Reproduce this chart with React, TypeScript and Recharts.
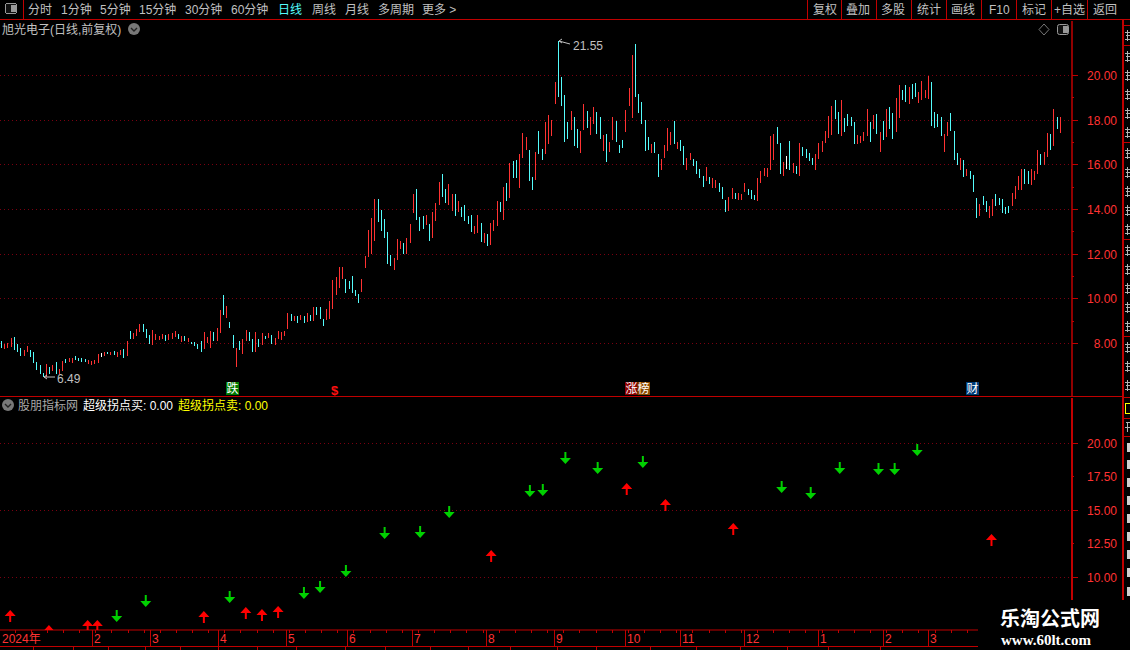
import React from "react";
import { Bar, CartesianGrid, ComposedChart, Line, XAxis, YAxis } from "recharts";

const candleHigh = [
  8.11,8.0,8.03,8.24,8.29,7.97,7.82,7.7,7.88,7.7,7.61,7.18,7.06,6.68,7.09,6.97,7.05,7.15,6.86,7.21,
  7.3,7.33,7.36,7.42,7.36,7.33,7.32,7.24,7.21,7.24,7.55,7.58,7.64,7.64,7.61,7.65,7.61,7.7,7.74,8.11,
  8.56,8.45,8.64,8.88,8.88,8.65,8.39,8.61,8.42,8.35,8.41,8.38,8.41,8.45,8.55,8.44,8.35,8.35,8.23,8.09,
  8.08,7.97,8.12,8.5,8.29,8.56,8.5,8.68,9.52,10.15,9.7,8.97,8.38,7.82,8.12,8.2,8.61,8.52,8.2,8.52,
  8.2,8.45,8.33,8.47,8.38,8.24,8.56,8.53,8.56,9.38,9.33,9.24,9.21,9.29,9.24,9.38,9.29,9.65,9.65,9.65,
  9.11,9.56,9.92,10.83,10.97,11.43,11.43,10.89,10.8,11.02,10.39,10.2,10.89,
  11.91,13.1,13.6,14.49,14.46,13.97,13.57,12.99,11.96,11.85,12.67,12.58,12.48,12.72,13.34,14.69,14.91,13.66,13.7,13.75,
  13.34,13.88,14.28,15.22,15.58,14.91,15.13,14.69,14.69,14.37,14.1,14.19,13.7,13.75,13.25,13.75,13.39,12.94,12.9,13.39,
  13.52,14.37,14.33,15.0,15.18,16.07,16.16,16.21,16.48,17.42,17.24,16.66,15.45,16.57,17.51,16.7,17.91,18.22,18.0,19.7,
  21.55,19.93,19.12,17.91,18.4,18.13,17.6,17.51,18.72,18.4,18.13,18.58,18.36,18.13,17.33,17.37,17.01,18.13,17.96,16.88,
  17.1,18.45,19.43,20.91,21.4,19.16,18.81,18.0,17.24,16.93,17.01,16.48,16.25,16.88,17.64,17.46,17.96,17.01,17.1,16.84,
  16.3,16.52,16.25,16.16,15.81,15.49,15.9,15.45,15.4,15.31,15.18,15.0,14.42,14.55,14.96,14.73,14.73,
  14.69,15.18,14.91,14.87,14.64,15.4,15.72,15.85,15.85,17.28,17.37,17.69,16.97,16.12,16.39,17.06,16.07,15.94,16.97,16.79,
  16.7,16.52,16.3,16.48,16.97,17.06,17.51,18.18,18.63,18.9,18.36,18.9,18.09,18.27,18.13,17.91,17.33,17.28,17.46,18.49,
  17.91,18.22,18.27,17.46,17.96,18.49,18.58,18.31,18.99,19.57,19.34,19.57,19.48,19.61,19.66,19.25,19.75,19.34,19.97,19.7,
  18.36,18.27,18.13,17.37,17.91,18.31,17.51,16.52,16.3,16.21,15.81,15.72,15.54,14.51,14.24,14.6,14.37,14.15,14.46,14.69,
  14.51,14.46,14.1,14.15,14.73,15.04,15.49,15.81,15.81,15.72,15.81,15.72,16.66,16.48,16.57,17.42,17.37,18.49,18.13,18.13,
];

const candleLow = [
  7.82,7.76,7.82,7.86,7.7,7.62,7.45,7.45,7.62,7.39,7.12,6.83,6.64,6.49,6.52,6.65,6.79,6.64,6.64,6.79,
  7.12,7.17,7.14,7.27,7.21,7.15,7.15,7.09,7.02,7.09,7.11,7.39,7.45,7.52,7.47,7.5,7.39,7.48,7.35,7.42,
  8.2,8.2,8.35,8.5,8.5,8.24,7.97,7.92,8.15,8.17,8.21,8.11,8.15,8.21,8.27,8.2,8.08,8.12,8.06,7.97,
  7.91,7.76,7.61,7.77,8.02,7.82,8.11,8.12,8.47,9.29,9.15,8.7,7.79,6.97,7.73,7.52,8.12,8.11,7.61,7.62,
  7.83,7.92,8.18,8.24,7.97,7.92,8.18,8.15,8.33,8.65,9.02,9.03,8.91,9.06,8.92,8.97,9.02,9.02,9.29,9.11,
  8.79,9.06,9.11,9.56,10.15,10.48,10.89,10.25,10.43,10.25,10.11,9.8,10.3,
  11.37,11.88,12.03,12.6,13.43,13.03,12.73,11.58,11.46,11.28,11.73,12.22,12.03,12.0,12.48,13.84,13.52,13.03,13.12,13.3,
  12.58,12.72,13.48,14.19,14.55,14.28,14.19,13.93,13.7,13.88,13.66,13.48,13.34,12.99,12.9,12.94,12.54,12.49,12.36,12.4,
  13.03,13.25,13.88,13.52,14.37,14.51,15.4,15.4,14.96,16.3,16.66,15.27,14.87,15.31,16.48,16.21,16.48,16.93,17.28,18.72,
  19.03,18.63,17.01,17.15,17.55,16.84,16.75,16.52,17.55,17.64,17.33,17.82,17.37,17.15,16.61,16.12,16.57,17.1,17.01,16.52,
  16.75,17.46,18.63,18.09,19.03,18.31,17.82,16.61,16.66,16.52,16.52,15.45,15.76,16.3,16.61,16.88,16.93,16.7,16.61,15.99,
  15.76,16.21,15.94,15.58,15.4,15.0,15.27,15.13,14.96,14.96,14.78,14.46,13.88,13.93,14.46,14.46,14.42,
  14.42,14.78,14.64,14.46,14.42,14.37,15.18,15.49,15.45,15.76,16.21,16.93,15.58,15.49,15.81,15.76,15.63,15.58,15.49,16.39,
  16.3,16.16,15.99,15.76,16.25,16.57,16.97,17.19,17.33,18.04,17.37,17.28,17.46,17.73,17.73,16.93,16.93,16.97,17.06,17.28,
  17.01,17.6,17.37,16.57,17.1,17.24,17.6,17.15,17.46,18.09,18.9,18.81,18.72,18.94,19.03,18.76,18.9,18.99,18.94,17.73,
  17.64,17.69,17.28,16.57,17.28,17.51,16.21,15.99,15.76,15.45,15.49,15.36,14.78,13.61,13.7,14.19,13.88,13.61,13.7,14.15,
  14.19,13.84,13.79,13.84,14.15,14.46,14.87,14.87,15.13,15.13,15.09,15.31,15.58,15.99,15.99,16.34,16.66,16.84,17.6,17.42,
];

const candleTones = (
  "crrrcccrrc" + "ccccrcrcrr" + "crrccccrrr" + "rwrcrcrrcr" + "crrrcccrrr" + "rcrrrcrcrc" +
  "cccrrrcrrc" + "rccrcrrccr" + "crcrcrrrrr" + "crcrcrcrcc" + "crrrrrrcccccr" +
  "rrrrcccccr" + "rrcrrrcccr" + "crrrccrrcr" + "ccccrrcrcr" + "rrcrcrccrr" + "rccrccrrrr" +
  "ccccrccrrc" + "rrccrcrrcc" + "crrrcccccr" + "ccrrrrcrcc" + "rrccccrcrr" + "cccrrcr" +
  "rrcccrrrrr" + "rccrwcrcrc" + "cccrrrrrrc" + "crccccrrrr" + "crcrcrccrr" +
  "ccrccrrrrc" + "cccrrcccrc" + "rcccrccrrc" + "ccccrrrrcc" + "rrrcrrcrcr"
).split("");

const buySignals: [number, number][] = [
  [3,7.58],[15,6.46],[27,6.83],[30,6.83],[63,7.5],[76,7.8],[81,7.65],[86,7.88],
  [152,12.05],[194,17.04],[206,15.85],[227,14.06],[307,13.24],
];
const sellSignals: [number, number][] = [
  [36,6.68],[45,7.8],[71,8.1],[94,8.4],[99,8.85],[107,10.04],[119,12.87],[130,12.94],[139,14.43],
  [164,16.0],[168,16.07],[175,18.46],[185,17.71],[199,18.16],[242,16.3],[251,15.85],[260,17.71],
  [272,17.64],[277,17.64],[284,19.05],
];

const monthTicks: [number, string][] = [
  [1,"2024年"],[29,"2"],[47,"3"],[68,"4"],[89,"5"],[108,"6"],[128,"7"],[151,"8"],[172,"9"],
  [194,"10"],[211,"11"],[231,"12"],[254,"1"],[274,"2"],[288,"3"],
];
const priceTicks = [8,9,10,11,12,13,14,15,16,17,18,19,20];
const priceGrid = [8,10,12,14,16,18,20];
const signalTicks = [10,12.5,15,17.5,20];
const signalGrid = [10,15,20];

const leftNav: [number, string, boolean][] = [
  [28,"分时",false],[61,"1分钟",false],[100,"5分钟",false],[139,"15分钟",false],[185,"30分钟",false],
  [231,"60分钟",false],[278,"日线",true],[312,"周线",false],[345,"月线",false],[378,"多周期",false],[422,"更多 >",false],
];
const rightNav: [number, string][] = [
  [813,"复权"],[846,"叠加"],[881,"多股"],[917,"统计"],[951,"画线"],[989,"F10"],[1022,"标记"],[1054,"+自选"],[1093,"返回"],
];
const navSeparators = [807,841,876,911,946,981,1016,1051,1087];
const tabSeparators = [33,73,108,145,180,218,257,296,345,385,430,468,510,557,596,650,696,740,787,828,880];
const sidebarRows = [29,50,69,88,107,126,147,166,185,204,223,244,263,282,301,320,341,360,379];
const sidebarLines = [25,45,142,239,336,397,418,436];
const sidebarBlocks = [443,460,478,496,514,532,550,568,587];

const RED = "#ff3232";
const LINE = "#c00000";
const GRID = "#7a0010";
const FONT = "'Liberation Sans','Noto Sans CJK SC',sans-serif";
const CHART_W = 1123;
const AXIS_W = 51;

const rows = candleHigh.map((high, idx) => {
  const buy = buySignals.find((s) => s[0] === idx);
  const sell = sellSignals.find((s) => s[0] === idx);
  return {
    idx,
    range: [candleLow[idx], high],
    tone: candleTones[idx],
    buy: buy ? buy[1] : null,
    sell: sell ? sell[1] : null,
  };
});

const toneColor: Record<string, string> = { r: RED, c: "#54fcfc", w: "#ffffff" };

function CandleShape(props: any) {
  const { x, y, width, height, payload } = props;
  if (x == null || y == null) return null;
  return (
    <rect
      x={Math.round(x + width / 2 - 0.5)}
      y={y}
      width={1}
      height={Math.max(height, 1)}
      fill={toneColor[payload.tone]}
      shapeRendering="crispEdges"
    />
  );
}

function arrowDot(direction: "up" | "down") {
  return function ArrowDot(props: any) {
    const { cx, cy, index, value } = props;
    if (value == null || cy == null || Number.isNaN(cy)) return <g key={`${direction}-${index}`} />;
    const s = direction === "up" ? 1 : -1;
    const ax = cx + 0.5;
    const pts = [
      [0, 0],[5.5, 6],[1, 6],[1, 12],[-1, 12],[-1, 6],[-5.5, 6],
    ].map(([dx, dy]) => `${ax + dx},${cy + s * dy}`).join(" ");
    const clipId = `clip-${direction}-${index}`;
    return (
      <g key={`${direction}-${index}`}>
        <clipPath id={clipId}><rect x={ax - 8} y={0} width={16} height={232} /></clipPath>
        <polygon points={pts} fill={direction === "up" ? "#ff0000" : "#00d000"} clipPath={`url(#${clipId})`} />
      </g>
    );
  };
}

function PriceTick(props: any) {
  const { x, y, payload } = props;
  const major = payload.value % 2 === 0;
  return (
    <g>
      <line x1={x} x2={x + (major ? 6 : 2)} y1={y} y2={y} stroke={LINE} shapeRendering="crispEdges" />
      {major && (
        <text x={x + 45} y={y + 4.5} textAnchor="end" fill={RED} fontSize={12} fontFamily={FONT}>
          {payload.value.toFixed(2)}
        </text>
      )}
    </g>
  );
}

function SignalTick(props: any) {
  const { x, y, payload } = props;
  const major = payload.value % 5 === 0;
  return (
    <g>
      <line x1={x} x2={x + (major ? 6 : 2)} y1={y} y2={y} stroke={LINE} shapeRendering="crispEdges" />
      <text x={x + 45} y={y + 4.5} textAnchor="end" fill={RED} fontSize={12} fontFamily={FONT}>
        {payload.value.toFixed(2)}
      </text>
    </g>
  );
}

const weekTicks = candleHigh.map((_, i) => i).filter((i) => i % 5 === 0);
const timeTicks = Array.from(new Set([...weekTicks, ...monthTicks.map((m) => m[0])])).sort((a, b) => a - b);

function TimeTick(props: any) {
  const { x, y, payload } = props;
  const month = monthTicks.find((m) => m[0] === payload.value);
  const left = Math.round(x - 1.6);
  if (!month) return <line x1={left} x2={left} y1={y} y2={y + 3} stroke={LINE} shapeRendering="crispEdges" />;
  const first = payload.value === 1;
  return (
    <g>
      {!first && <line x1={left} x2={left} y1={y} y2={y + 16} stroke={LINE} shapeRendering="crispEdges" />}
      <text x={first ? 2 : left + 2} y={y + 13} fill={RED} fontSize={12} fontFamily={FONT}>{month[1]}</text>
    </g>
  );
}

function Circle({ cx, cy }: { cx: number; cy: number }) {
  return (
    <g>
      <circle cx={cx} cy={cy} r={6} fill="#787878" />
      <path d={`M${cx - 3} ${cy - 1} L${cx} ${cy + 2} L${cx + 3} ${cy - 1}`} stroke="#222" strokeWidth={1.4} fill="none" />
    </g>
  );
}

function Overlay() {
  const txt = { fontFamily: FONT, fontSize: 12 };
  return (
    <svg width={1130} height={650} style={{ position: "absolute", left: 0, top: 0, pointerEvents: "none" }}>
      {/* top strip */}
      <g shapeRendering="crispEdges">
        <line x1={0} x2={1130} y1={19.5} y2={19.5} stroke={LINE} />
        <line x1={23.5} x2={23.5} y1={0} y2={19} stroke={LINE} />
        {navSeparators.map((x) => <line key={x} x1={x + 0.5} x2={x + 0.5} y1={0} y2={19} stroke={LINE} />)}
        <rect x={5.5} y={3.5} width={11} height={10} fill="#111" stroke="#999" rx={2} />
        <rect x={11} y={5} width={5} height={7} fill="#999" />
      </g>
      {leftNav.map(([x, t, on]) => (
        <text key={x} x={x} y={14} {...txt} fill={on ? "#54fcfc" : "#c0c0c0"}>{t}</text>
      ))}
      {rightNav.map(([x, t]) => (
        <text key={x} x={x} y={14} {...txt} fill="#c0c0c0">{t}</text>
      ))}

      {/* upper pane captions */}
      <text x={2} y={34} {...txt} fill="#c0c0c0">旭光电子(日线,前复权)</text>
      <Circle cx={134} cy={29} />
      <path d="M1044 24 L1049 29.5 L1044 35 L1039 29.5 Z" fill="none" stroke="#777" />
      <rect x={1057.5} y={24.5} width={11} height={10} fill="#111" stroke="#999" rx={2} />
      <rect x={1063} y={26} width={5} height={7} fill="#999" />

      {/* extreme markers */}
      <path d="M559 41 L570 44 M559 41 L562 39 M559 41 L562 43" stroke="#c0c0c0" fill="none" />
      <text x={573} y={50} {...txt} fill="#c0c0c0">21.55</text>
      <path d="M44 377 L55 377 M44 377 L47 375 M44 377 L47 379" stroke="#c0c0c0" fill="none" />
      <text x={57} y={383} {...txt} fill="#c0c0c0">6.49</text>

      {/* event tags */}
      <rect x={226} y={382} width={13} height={13} fill="#007a00" />
      <text x={226.5} y={393} {...txt} fill="#fff">跌</text>
      <text x={331} y={395} fontFamily={FONT} fontSize={13} fontWeight={700} fill="#ff1010">$</text>
      <rect x={625} y={382} width={12.5} height={13} fill="#8c0000" />
      <rect x={637.5} y={382} width={12.5} height={13} fill="#8c4a00" />
      <text x={625.5} y={393} {...txt} fill="#fff">涨榜</text>
      <rect x={966} y={382} width={13} height={13} fill="#003c78" />
      <text x={966.5} y={393} {...txt} fill="#fff">财</text>

      {/* pane divider and lower captions */}
      <line x1={0} x2={1123} y1={396.5} y2={396.5} stroke={LINE} shapeRendering="crispEdges" />
      <Circle cx={8} cy={405} />
      <text x={18} y={410} {...txt} fill="#a8a8a8">股朋指标网</text>
      <text x={83} y={410} {...txt} fill="#ffffff">超级拐点买: 0.00</text>
      <text x={178} y={410} {...txt} fill="#ffff00">超级拐点卖: 0.00</text>

      {/* bottom tabs */}
      <line x1={0} x2={978} y1={646.5} y2={646.5} stroke={LINE} shapeRendering="crispEdges" />
      {tabSeparators.map((x) => <line key={x} x1={x + 0.5} x2={x + 0.5} y1={647} y2={650} stroke={LINE} shapeRendering="crispEdges" />)}

      {/* sidebar: the panel beyond the window edge shows only slivers of its glyphs */}
      <line x1={1123} x2={1123} y1={20} y2={600} stroke={LINE} strokeWidth={2} shapeRendering="crispEdges" />
      {sidebarLines.map((y) => <line key={y} x1={1123} x2={1130} y1={y + 0.5} y2={y + 0.5} stroke={LINE} shapeRendering="crispEdges" />)}
      <g shapeRendering="crispEdges" fill="#b4b4b4">
        {sidebarRows.map((y) => (
          <g key={y}>
            <rect x={1127} y={y + 1} width={1} height={11} />
            <rect x={1125} y={y + 3} width={5} height={1} />
            <rect x={1126} y={y + 6} width={4} height={1} />
            <rect x={1125} y={y + 10} width={5} height={1} />
          </g>
        ))}
        <rect x={1125} y={403} width={1} height={11} fill="#ffff00" />
        <rect x={1125} y={403} width={5} height={1} fill="#ffff00" />
        <rect x={1125} y={413} width={5} height={1} fill="#ffff00" />
        <rect x={1126} y={422} width={4} height={1} />
        <rect x={1127} y={422} width={1} height={10} />
        <rect x={1125} y={427} width={5} height={1} />
      </g>
      {sidebarBlocks.map((y) => <rect key={y} x={1127} y={y} width={3} height={9} fill="#cfcfcf" />)}

      {/* watermark */}
      <rect x={978} y={600} width={152} height={50} fill="#000" />
      <text x={1000} y={626} fontFamily="'Noto Sans CJK SC',sans-serif" fontWeight={700} fontSize={20} fill="#fff">乐淘公式网</text>
      <text x={1001} y={645} fontFamily="'Liberation Serif',serif" fontWeight={700} fontSize={15} fill="#fff">www.60lt.com</text>
    </svg>
  );
}

const buyDot = arrowDot("up");
const sellDot = arrowDot("down");

export default function App() {
  return (
    <div style={{ position: "fixed", left: 0, top: 0, width: 1130, height: 650, background: "#000", overflow: "hidden" }}>
      <div style={{ position: "absolute", left: 0, top: 21 }}>
        <ComposedChart width={CHART_W} height={375} data={rows} margin={{ top: 0, right: 0, bottom: 0, left: 0 }}>
          <CartesianGrid vertical={false} horizontalValues={priceGrid} stroke={GRID} strokeDasharray="1 3" shapeRendering="crispEdges" />
          <XAxis dataKey="idx" hide padding={{ left: 0, right: 10 }} />
          <YAxis
            orientation="right"
            width={AXIS_W}
            domain={[5.65, 22.44]}
            allowDataOverflow
            ticks={priceTicks}
            interval={0}
            tickSize={0}
            tickMargin={0}
            tickLine={false}
            axisLine={{ stroke: LINE, strokeWidth: 1.5 }}
            tick={<PriceTick />}
          />
          <Bar dataKey="range" barSize={1} shape={CandleShape} isAnimationActive={false} />
        </ComposedChart>
      </div>
      <div style={{ position: "absolute", left: 0, top: 398 }}>
        <ComposedChart width={CHART_W} height={252} data={rows} margin={{ top: 0, right: 0, bottom: 0, left: 0 }}>
          <CartesianGrid vertical={false} horizontalValues={signalGrid} stroke={GRID} strokeDasharray="1 3" shapeRendering="crispEdges" />
          <XAxis
            dataKey="idx"
            height={20}
            padding={{ left: 0, right: 10 }}
            ticks={timeTicks}
            interval={0}
            tickSize={0}
            tickMargin={0}
            tickLine={false}
            axisLine={{ stroke: LINE }}
            tick={<TimeTick />}
          />
          <YAxis
            orientation="right"
            width={AXIS_W}
            domain={[6.09, 23.38]}
            allowDataOverflow
            ticks={signalTicks}
            interval={0}
            tickSize={0}
            tickMargin={0}
            tickLine={false}
            axisLine={{ stroke: LINE, strokeWidth: 2 }}
            tick={<SignalTick />}
          />
          <Line dataKey="buy" stroke="none" dot={buyDot} activeDot={false} connectNulls={false} isAnimationActive={false} />
          <Line dataKey="sell" stroke="none" dot={sellDot} activeDot={false} connectNulls={false} isAnimationActive={false} />
        </ComposedChart>
      </div>
      <Overlay />
    </div>
  );
}
